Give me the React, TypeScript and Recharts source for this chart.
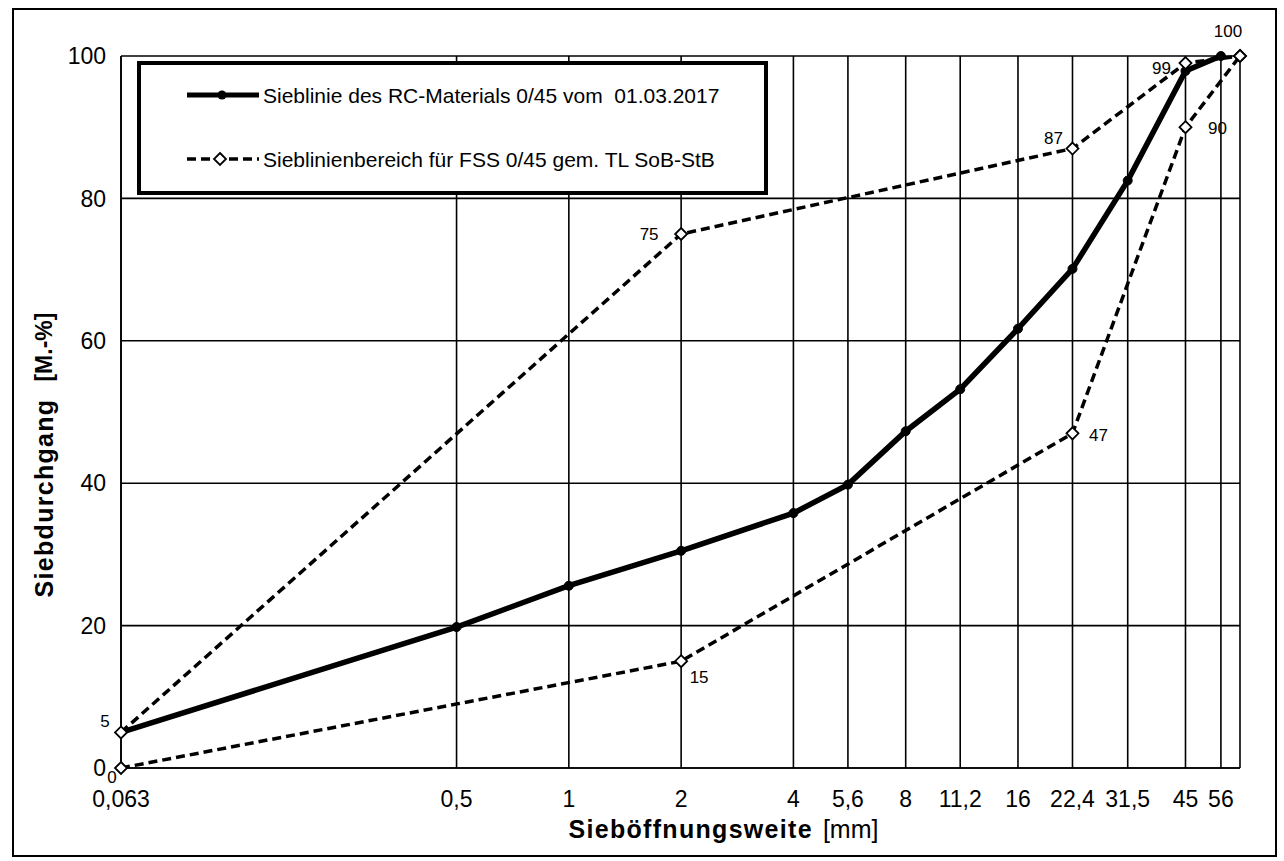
import React from "react";
import { LineChart, Line, XAxis, YAxis, CartesianGrid, Legend } from "recharts";

const FONT = '"Liberation Sans", Arial, sans-serif';

// sieve sizes in mm (x axis ticks, log scale)
const sieveSizes = [0.063, 0.5, 1, 2, 4, 5.6, 8, 11.2, 16, 22.4, 31.5, 45, 56, 63];
const yTicks = [0, 20, 40, 60, 80, 100];

// grading curve of the RC material
const rcSizes = [0.063, 0.5, 1, 2, 4, 5.6, 8, 11.2, 16, 22.4, 31.5, 45, 56];
const rcPassing = [5, 19.8, 25.6, 30.5, 35.8, 39.8, 47.3, 53.2, 61.7, 70.1, 82.5, 97.9, 100];

// limits for FSS 0/45 (TL SoB-StB)
const limitSizes = [0.063, 2, 22.4, 45, 63];
const upperLimit = [5, 75, 87, 99, 100];
const lowerLimit = [0, 15, 47, 90, 100];

const rcData = rcSizes.map((x, i) => ({ x, y: rcPassing[i] }));
const upperData = limitSizes.map((x, i) => ({ x, y: upperLimit[i] }));
const lowerData = limitSizes.map((x, i) => ({ x, y: lowerLimit[i] }));

// label offsets (dx, dy) relative to the point
const upperLabelPos: (number[] | null)[] = [[-16, -11], [-32, 0], [-19, -10], [-24, 5], [-12, -25]];
const lowerLabelPos: (number[] | null)[] = [[-9, 9], [18, 16], [26, 2], [32, 1], null];

const fmt = (v: number) => (v === 63 ? "" : String(v).replace(".", ","));

const diamondDot = (pos: (number[] | null)[]) => (props: any) => {
  const { cx, cy, index, payload } = props;
  if (cx == null || cy == null) return <g key={index} />;
  const s = 6;
  const p = pos[index];
  return (
    <g key={`d-${index}`}>
      <path
        d={`M${cx},${cy - s} L${cx + s},${cy} L${cx},${cy + s} L${cx - s},${cy} Z`}
        fill="#fff"
        stroke="#000"
        strokeWidth={1.8}
      />
      {p && (
        <text
          x={cx + p[0]}
          y={cy + p[1]}
          textAnchor="middle"
          dominantBaseline="central"
          fontSize={17}
          fontFamily={FONT}
          fill="#000"
        >
          {payload.y}
        </text>
      )}
    </g>
  );
};

const renderLegend = () => (
  <div
    style={{
      boxSizing: "border-box",
      width: 631,
      height: 134,
      border: "4px solid #000",
      background: "#fff",
    }}
  >
    <svg width={623} height={126} style={{ display: "block" }}>
      <line x1={46} y1={30} x2={118} y2={30} stroke="#000" strokeWidth={5} />
      <circle cx={81} cy={30} r={4.5} fill="#000" />
      <text x={122} y={30} dominantBaseline="central" fontSize={21} fontFamily={FONT} fill="#000">
        {"Sieblinie des RC-Materials 0/45 vom\u00A0 01.03.2017"}
      </text>
      <line x1={46} y1={94} x2={118} y2={94} stroke="#000" strokeWidth={3.5} strokeDasharray="9 5" />
      <path d="M79,88 L85,94 L79,100 L73,94 Z" fill="#fff" stroke="#000" strokeWidth={1.8} />
      <text x={122} y={94} dominantBaseline="central" fontSize={21} fontFamily={FONT} fill="#000">
        Sieblinienbereich für FSS 0/45 gem. TL SoB-StB
      </text>
    </svg>
  </div>
);

const xTitle = (props: any) => {
  const vb = props.viewBox;
  return (
    <text
      x={vb.x + vb.width / 2 + 43}
      y={vb.y + 61}
      textAnchor="middle"
      dominantBaseline="central"
      fontSize={25}
      fontFamily={FONT}
      fill="#000"
    >
      <tspan fontWeight="bold" letterSpacing={1.3}>Sieböffnungsweite</tspan>
      <tspan dx={10}>[mm]</tspan>
    </text>
  );
};

const yTitle = (props: any) => {
  const vb = props.viewBox;
  const cx = 44;
  const cy = vb.y + vb.height / 2 + 43;
  return (
    <text
      x={cx}
      y={cy}
      transform={`rotate(-90 ${cx} ${cy})`}
      textAnchor="middle"
      dominantBaseline="central"
      fontSize={25}
      fontWeight="bold"
      fontFamily={FONT}
      fill="#000"
    >
      <tspan letterSpacing={1.3}>Siebdurchgang</tspan>
      <tspan dx={17} fontSize={23}>[M.-%]</tspan>
    </text>
  );
};

export default function App() {
  return (
    <div style={{ position: "absolute", left: 0, top: 0, width: 1284, height: 861, background: "#fff" }}>
      <LineChart width={1284} height={861} margin={{ top: 56, right: 44, bottom: 33, left: 0 }}>
        <CartesianGrid stroke="#000" strokeWidth={1.6} />
        <XAxis
          dataKey="x"
          type="number"
          scale="log"
          domain={[0.063, 63]}
          ticks={sieveSizes}
          interval={0}
          tickFormatter={fmt}
          tickLine={false}
          tickSize={0}
          tickMargin={23}
          height={60}
          axisLine={{ stroke: "#000", strokeWidth: 1.6 }}
          tick={{ fontSize: 23, fill: "#000", fontFamily: FONT }}
          label={{ content: xTitle }}
        />
        <YAxis
          type="number"
          domain={[0, 100]}
          ticks={yTicks}
          interval={0}
          width={121}
          tickLine={false}
          tickSize={0}
          tickMargin={15}
          axisLine={{ stroke: "#000", strokeWidth: 1.6 }}
          tick={{ fontSize: 23, fill: "#000", fontFamily: FONT }}
          label={{ content: yTitle }}
        />
        <Legend
          layout="horizontal"
          verticalAlign="middle"
          align="center"
          content={renderLegend}
          wrapperStyle={{ left: 137, top: 61, width: 631, height: 134 }}
        />
        <Line
          data={rcData}
          dataKey="y"
          stroke="#000"
          strokeWidth={5.5}
          dot={{ r: 4.5, fill: "#000", stroke: "#000", strokeWidth: 1 }}
          activeDot={false}
          isAnimationActive={false}
        />
        <Line
          data={upperData}
          dataKey="y"
          stroke="#000"
          strokeWidth={3.5}
          strokeDasharray="9 5"
          dot={diamondDot(upperLabelPos)}
          activeDot={false}
          isAnimationActive={false}
        />
        <Line
          data={lowerData}
          dataKey="y"
          stroke="#000"
          strokeWidth={3.5}
          strokeDasharray="9 5"
          dot={diamondDot(lowerLabelPos)}
          activeDot={false}
          isAnimationActive={false}
        />
      </LineChart>
      <div
        style={{
          position: "absolute",
          left: 12,
          top: 8,
          width: 1265,
          height: 849,
          boxSizing: "border-box",
          border: "2px solid #000",
          pointerEvents: "none",
        }}
      />
    </div>
  );
}
